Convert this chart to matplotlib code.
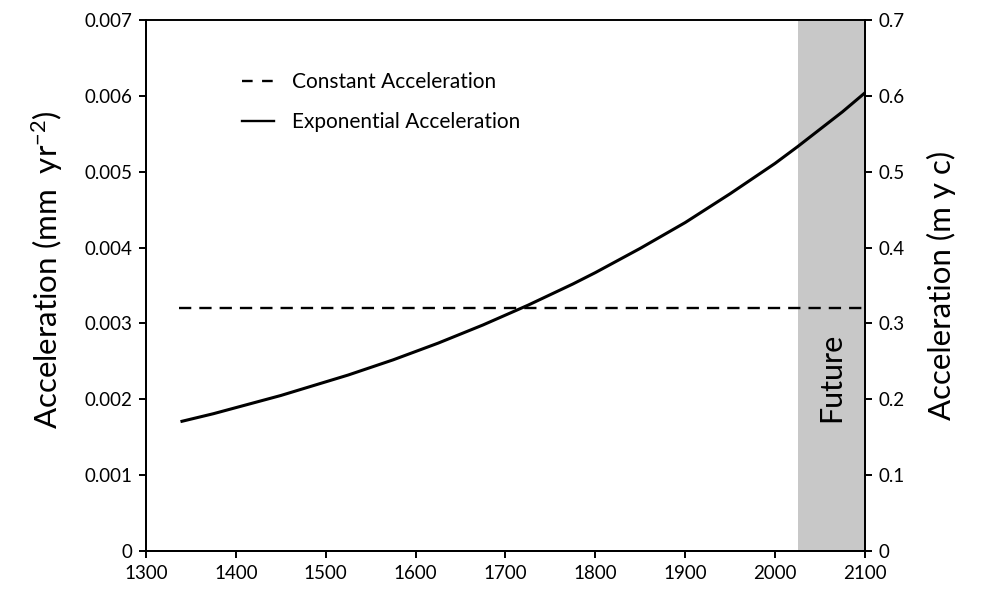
import numpy as np
import matplotlib
matplotlib.use("Agg")
import matplotlib.pyplot as plt
from matplotlib.lines import Line2D

plt.rcParams["font.family"] = ["Lato", "DejaVu Sans"]
plt.rcParams["mathtext.default"] = "regular"

# datos ----------------------------------------------------------------

years = [1340, 1375, 1400, 1425, 1450, 1475, 1500, 1525, 1550, 1575, 1600, 1625,
         1650, 1675, 1700, 1725, 1750, 1775, 1800, 1825, 1850, 1875, 1900, 1925,
         1950, 1975, 2000, 2025, 2050, 2075, 2100]
exp_acc = [0.00171, 0.00181, 0.00189, 0.00197, 0.00205, 0.00214, 0.00223, 0.00232,
           0.00242, 0.00252, 0.00263, 0.00274, 0.00286, 0.00298, 0.00311, 0.00324,
           0.00338, 0.00352, 0.00367, 0.00383, 0.00399, 0.00416, 0.00433, 0.00452,
           0.00471, 0.00491, 0.00511, 0.00533, 0.00556, 0.00579, 0.00604]
const_years = [1337, 2100]
const_acc = [0.00321, 0.00321]
future_span = (2025, 2100)

left_ticks = [0, 0.001, 0.002, 0.003, 0.004, 0.005, 0.006, 0.007]
left_labels = ["0", "0.001", "0.002", "0.003", "0.004", "0.005", "0.006", "0.007"]
right_ticks = [0, 0.1, 0.2, 0.3, 0.4, 0.5, 0.6, 0.7]
right_labels = ["0", "0.1", "0.2", "0.3", "0.4", "0.5", "0.6", "0.7"]
x_ticks = [1300, 1400, 1500, 1600, 1700, 1800, 1900, 2000, 2100]

# figura ---------------------------------------------------------------

fig = plt.figure(figsize=(9.84, 5.94), dpi=100)
ax = fig.add_axes([0.1484, 0.0724, 0.7306, 0.8939])
ax2 = ax.twinx()

ax.axvspan(*future_span, color="#c8c8c8", lw=0, zorder=0)
ax.plot(const_years, const_acc, color="black", lw=1.7, dashes=(5.2, 3.4), zorder=3)
ax.plot(years, exp_acc, color="black", lw=2.2, zorder=3)

ax.text(2062, 0.00229, "Future", rotation=90, ha="center", va="center", fontsize=22)

ax.set_xlim(1300, 2100)
ax.set_ylim(0, 0.007)
ax2.set_ylim(0, 0.7)
ax.set_xticks(x_ticks)
ax.set_yticks(left_ticks)
ax.set_yticklabels(left_labels)
ax2.set_yticks(right_ticks)
ax2.set_yticklabels(right_labels)

for a in (ax, ax2):
    for s in a.spines.values():
        s.set_linewidth(1.4)
    a.tick_params(direction="out", length=5, width=1.4, labelsize=13.5, pad=5)
ax2.spines["top"].set_visible(False)

ax.set_ylabel("Acceleration (mm  yr$^{-2}$)", fontsize=22.5, labelpad=14)
ax.yaxis.label.set_y(0.53)
ax2.set_ylabel("Acceleration (m y c)", fontsize=22.5, labelpad=16)

handles = [
    Line2D([0], [0], color="black", lw=1.7, dashes=(4.5, 4.0), label="Constant Acceleration"),
    Line2D([0], [0], color="black", lw=1.7, label="Exponential Acceleration"),
]
ax.legend(handles=handles, loc="upper left", bbox_to_anchor=(0.108, 0.937),
          frameon=False, fontsize=15, handlelength=1.5, labelspacing=0.95,
          handletextpad=0.87)

fig.savefig("out.png", dpi=100)
